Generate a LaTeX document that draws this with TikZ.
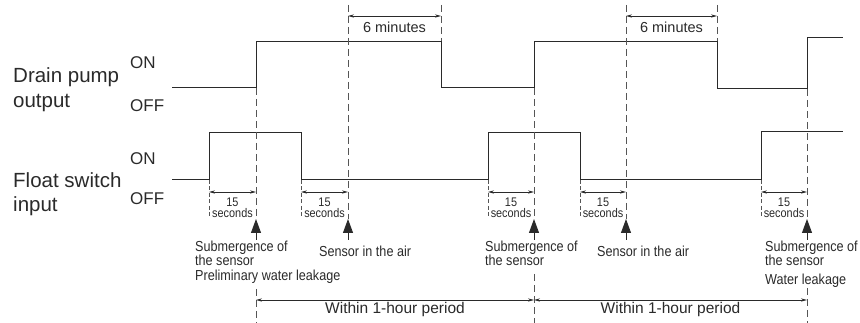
\documentclass[tikz,border=0pt]{standalone}
\usepackage{fontspec}
\setmainfont{Liberation Sans}
\newfontfamily\narrowfont[FakeStretch=0.87]{Liberation Sans}
\usetikzlibrary{arrows.meta}
\definecolor{ink}{HTML}{2A2A2A}
\definecolor{dashc}{HTML}{555555}
\begin{document}
\begin{tikzpicture}[x=1pt,y=-1pt,
  sig/.style={line width=0.95pt, draw=ink},
  dsh/.style={line width=0.9pt, draw=dashc, dash pattern=on 7pt off 4pt},
  sdsh/.style={line width=0.7pt, draw=dashc, dash pattern=on 4pt off 2.5pt},
  dimar/.style={line width=0.7pt, draw=ink, {Stealth[length=6pt,width=3.2pt]}-{Stealth[length=6pt,width=3.2pt]}},
  bigl/.style={font=\fontsize{20.5}{25}\selectfont, text=ink, anchor=base west, inner sep=0pt},
  lvl/.style={font=\fontsize{17}{20}\selectfont, text=ink, anchor=base west, inner sep=0pt},
  lab/.style={font=\narrowfont\fontsize{14.5}{15}\selectfont, text=ink, anchor=base west, inner sep=0pt},
  secs/.style={font=\narrowfont\fontsize{12.5}{11}\selectfont, text=ink, anchor=north, inner sep=0pt, align=center},
  mins/.style={font=\fontsize{14.5}{16}\selectfont, text=ink, anchor=base, inner sep=0pt},
  per/.style={font=\fontsize{15.5}{17}\selectfont, text=ink, anchor=base, inner sep=0pt},
  trimark/.style={line width=0.9pt, draw=ink, -{Triangle[length=14pt,width=10pt]}}
]
\useasboundingbox (0,0) rectangle (860,323);

% left labels
\node[bigl] (dp1) at (13,83) {Drain pump};
\node[bigl] (dp2) at (13,108) {output};
\node[lvl] (pon) at (130,69) {ON};
\node[lvl] (poff) at (130,112) {OFF};
\node[bigl] (fs1) at (13,188) {Float switch};
\node[bigl] (fs2) at (13,212) {input};
\node[lvl] (fon) at (130,165) {ON};
\node[lvl] (foff) at (130,205) {OFF};

% signals
\draw[sig] (172,87) -- (256,87) -- (256,41) -- (441,41) -- (441,87) -- (534,87) -- (534,41)
  -- (717,41) -- (717,88) -- (807,88) -- (807,37) -- (843,37);
\draw[sig] (172,179) -- (209,179) -- (209,132) -- (301,132) -- (301,179) -- (488,179) -- (488,132)
  -- (580,132) -- (580,179) -- (761,179) -- (761,131) -- (843,131);

% main dashed lines
\draw[dsh] (256,88) -- (256,219);
\draw[dsh] (256,289) -- (256,323);
\draw[dsh] (534,88) -- (534,219);
\draw[dsh] (534,274) -- (534,323);
\draw[dsh] (807,89) -- (807,219);
\draw[dsh] (807,288) -- (807,323);
\draw[dsh] (348,5) -- (348,219);
\draw[dsh] (626,5) -- (626,219);
\draw[dsh] (441,5) -- (441,41);
\draw[dsh] (717,5) -- (717,41);

% short dashed at float edges
\foreach \x in {209,301,488,580,761} {
  \draw[sdsh] (\x,180) -- (\x,218);
}

% 6 minutes
\draw[dimar] (348,16) -- (441,16);
\draw[dimar] (626,16) -- (717,16);
\node[mins] (m1) at (394.5,33) {6 minutes};
\node[mins] (m2) at (671.5,33) {6 minutes};

% 15 seconds
\foreach \a/\b in {209/256,301/348,488/534,580/626,761/807} {
  \draw[dimar] (\a,192) -- (\b,192);
  \node[secs] at ({(\a+\b)/2},197.5) {15\\seconds};
}

% triangle markers
\foreach \x in {256,348,534,626,807} {
  \draw[trimark] (\x,240) -- (\x,219);
}

% event labels
\node[lab] (s1a) at (195,252) {Submergence of};
\node[lab] (s1b) at (195,266) {the sensor};
\node[lab] (s1c) at (195,280) {Preliminary water leakage};
\node[lab] (a1) at (319,257) {Sensor in the air};
\node[lab] (s2a) at (485,252) {Submergence of};
\node[lab] (s2b) at (485,266) {the sensor};
\node[lab] (a2) at (597,257) {Sensor in the air};
\node[lab] (s3a) at (765,252) {Submergence of};
\node[lab] (s3b) at (765,266) {the sensor};
\node[lab] (s3c) at (765,284) {Water leakage};

% periods
\draw[dimar] (256,300) -- (534,300);
\draw[dimar] (534,300) -- (807,300);
\node[per] (p1) at (395,313) {Within 1-hour period};
\node[per] (p2) at (670.5,313) {Within 1-hour period};
\end{tikzpicture}
\end{document}
